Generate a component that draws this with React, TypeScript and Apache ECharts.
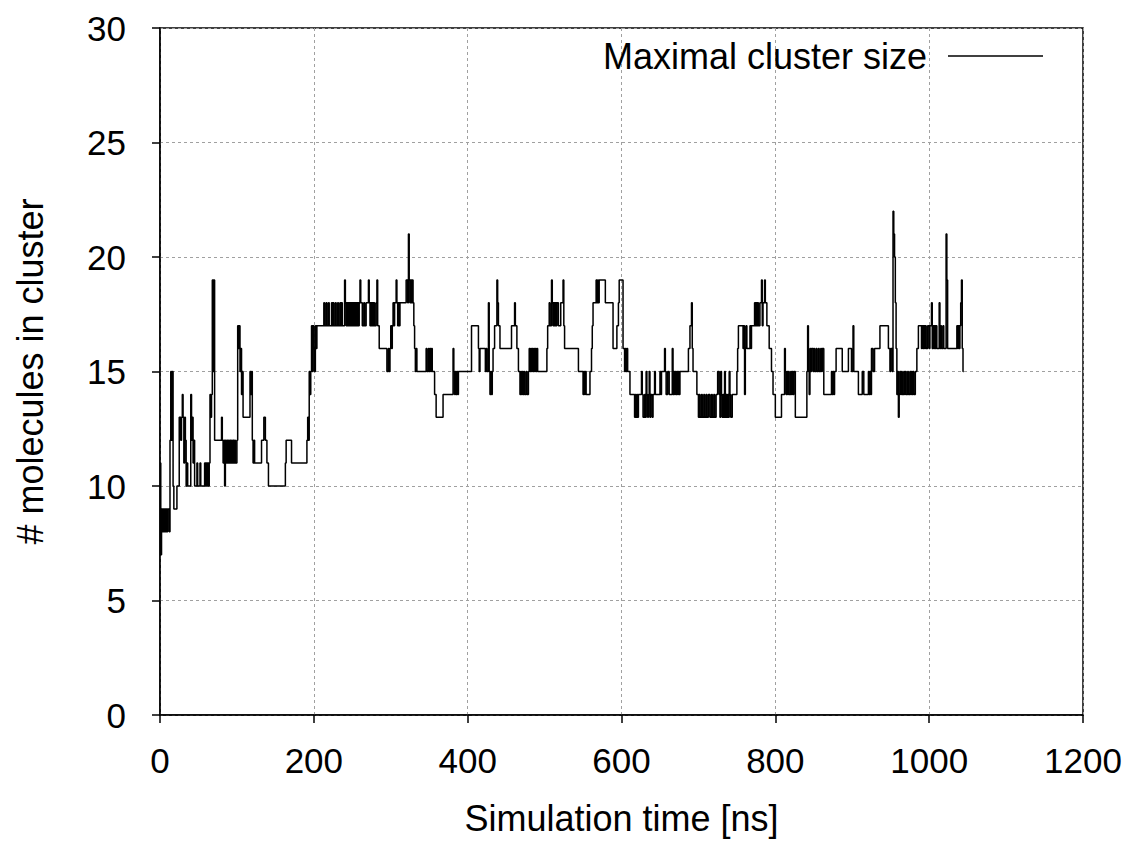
import React, { useEffect, useRef } from "react";
import * as echarts from "echarts";

// Maximal cluster size [t (ns), molecules] — value holds from t until next point
const seg0to100: [number, number][] = [
  [0, 11], [1, 7], [2, 9], [3, 8], [4, 9], [5, 8], [6, 9], [7, 8], [8, 9], [9, 8], [10, 9], [12, 8],
  [13, 12], [14, 15], [15, 12], [16, 15], [17, 10], [18, 9], [22, 10], [25, 13], [27, 12], [28, 13],
  [29, 14], [30, 13], [31, 11], [32, 13], [33, 12], [34, 10], [35, 11], [36, 10], [40, 14], [41, 12],
  [42, 13], [43, 11], [44, 12], [45, 10], [48, 11], [49, 10], [52, 11], [53, 10], [58, 11], [59, 10],
  [60, 11], [61, 10], [62, 11], [63, 10], [64, 11], [65, 14], [66, 13], [67, 14], [68, 19], [69, 15],
  [70, 19], [71, 12], [80, 13], [81, 12], [82, 11], [83, 12], [84, 10], [85, 12], [86, 11], [87, 12],
  [88, 11], [89, 12], [90, 11], [91, 12], [92, 11], [93, 12], [94, 11], [95, 12], [96, 11], [97, 12],
  [98, 11], [100, 12],
];
const seg100to200: [number, number][] = [
  [101, 17], [102, 16], [103, 17], [104, 15], [105, 16], [106, 14], [107, 15], [108, 13], [117, 15],
  [118, 14], [119, 15], [120, 12], [121, 11], [122, 12], [123, 11], [132, 12], [135, 13], [137, 12],
  [139, 11], [141, 10], [163, 11], [164, 12], [171, 11], [191, 12], [192, 13], [193, 12], [194, 15],
  [195, 14], [196, 15], [197, 17], [198, 15], [199, 17],
];
const seg200to400: [number, number][] = [
  [200, 16], [201, 15], [202, 17], [203, 16], [204, 17], [213, 18], [214, 17], [216, 18], [217, 17],
  [219, 18], [220, 17], [223, 18], [224, 17], [225, 18], [226, 17], [228, 18], [229, 17], [231, 18],
  [232, 17], [234, 18], [235, 17], [236, 18], [237, 17], [240, 19], [241, 18], [242, 17], [243, 18],
  [244, 17], [245, 18], [246, 17], [247, 18], [248, 17], [249, 18], [250, 17], [251, 18], [252, 17],
  [253, 18], [254, 17], [255, 18], [256, 17], [257, 18], [258, 17], [259, 18], [260, 19], [261, 18],
  [263, 17], [265, 18], [266, 17], [268, 18], [271, 19], [272, 18], [273, 17], [274, 18], [275, 17],
  [276, 18], [277, 17], [278, 18], [279, 17], [281, 18], [282, 19], [283, 17], [285, 16], [295, 15],
  [297, 16], [298, 15], [299, 16], [300, 17], [301, 16], [302, 17], [303, 18], [304, 17], [305, 18],
  [307, 19], [308, 18], [309, 17], [310, 18], [311, 17], [312, 18], [320, 19], [322, 18], [323, 21],
  [324, 19], [325, 18], [326, 19], [327, 18], [328, 19], [329, 18], [330, 17], [331, 16], [332, 15],
  [333, 16], [334, 15], [346, 16], [347, 15], [349, 16], [350, 15], [351, 16], [352, 15], [353, 16],
  [354, 15], [357, 14], [359, 13], [368, 14], [381, 16], [382, 15], [383, 14], [384, 15], [385, 14],
  [386, 15], [387, 14], [388, 15],
];
const seg400to600: [number, number][] = [
  [405, 17], [414, 16], [415, 15], [416, 16], [423, 15], [424, 16], [425, 15], [427, 18], [428, 15],
  [429, 14], [430, 15], [431, 14], [432, 15], [433, 16], [435, 17], [438, 19], [439, 18], [440, 17],
  [442, 16], [457, 17], [461, 18], [462, 17], [464, 16], [466, 15], [468, 14], [469, 15], [470, 14],
  [471, 15], [472, 14], [473, 15], [474, 14], [476, 15], [477, 14], [479, 15], [480, 16], [481, 15],
  [482, 16], [483, 15], [484, 16], [485, 15], [486, 16], [487, 15], [488, 16], [489, 15], [490, 16],
  [491, 15], [503, 16], [504, 17], [506, 18], [507, 17], [509, 19], [510, 18], [511, 17], [512, 18],
  [513, 17], [514, 18], [515, 17], [516, 18], [518, 17], [521, 18], [524, 19], [525, 17], [526, 16],
  [544, 15], [550, 14], [551, 15], [552, 14], [553, 15], [554, 14], [559, 15], [561, 16], [562, 17],
  [563, 18], [567, 19], [568, 18], [569, 19], [570, 18], [571, 19], [579, 18], [589, 16], [594, 17],
  [596, 18], [597, 19],
];
const seg600to800: [number, number][] = [
  [602, 16], [604, 15], [605, 16], [606, 15], [607, 16], [608, 15], [611, 14], [617, 13], [618, 14],
  [619, 13], [620, 14], [621, 13], [622, 14], [626, 15], [627, 14], [628, 13], [630, 14], [631, 13],
  [632, 15], [633, 14], [634, 13], [635, 14], [636, 15], [637, 13], [638, 14], [640, 13], [641, 14],
  [643, 15], [644, 14], [650, 15], [651, 14], [652, 15], [656, 16], [657, 15], [658, 14], [660, 15],
  [662, 14], [666, 16], [667, 14], [668, 15], [669, 14], [670, 15], [671, 14], [672, 15], [673, 14],
  [674, 15], [675, 14], [676, 15], [687, 16], [689, 17], [691, 18], [692, 16], [693, 15], [698, 14],
  [700, 13], [701, 14], [702, 13], [704, 14], [705, 13], [707, 14], [708, 13], [710, 14], [711, 13],
  [713, 14], [715, 13], [717, 14], [718, 13], [720, 14], [721, 13], [723, 14], [725, 15], [727, 14],
  [728, 13], [729, 15], [730, 14], [731, 13], [732, 14], [733, 13], [734, 15], [735, 13], [736, 14],
  [737, 13], [738, 14], [739, 13], [740, 15], [741, 14], [742, 13], [744, 14], [750, 15], [751, 16],
  [752, 17], [758, 16], [759, 17], [760, 14], [761, 16], [762, 17], [763, 16], [767, 17], [768, 16],
  [769, 17], [773, 18], [774, 17], [775, 18], [776, 17], [777, 18], [778, 17], [780, 18], [782, 19],
  [783, 17], [784, 18], [786, 19], [787, 18], [789, 17], [792, 16], [795, 15], [797, 14],
];
const seg800to1045: [number, number][] = [
  [800, 13], [808, 14], [812, 16], [813, 15], [814, 14], [815, 15], [816, 14], [817, 15], [818, 14],
  [820, 15], [821, 14], [822, 15], [823, 14], [824, 15], [826, 13], [841, 15], [842, 17], [843, 15],
  [844, 14], [845, 16], [846, 15], [847, 16], [849, 15], [850, 16], [851, 15], [853, 16], [854, 15],
  [856, 16], [857, 15], [859, 16], [860, 15], [861, 16], [863, 14], [873, 15], [874, 14], [875, 15],
  [876, 14], [877, 15], [879, 16], [887, 15], [895, 16], [899, 15], [901, 17], [902, 15], [908, 14],
  [913, 15], [915, 14], [921, 15], [922, 14], [923, 15], [924, 14], [925, 16], [927, 15], [929, 16],
  [936, 17], [947, 16], [949, 15], [950, 16], [952, 15], [953, 22], [954, 21], [955, 20], [956, 18],
  [957, 16], [958, 14], [959, 15], [960, 13], [961, 14], [962, 15], [963, 14], [964, 15], [965, 14],
  [967, 15], [968, 14], [969, 15], [970, 14], [972, 15], [973, 14], [975, 15], [976, 14], [977, 15],
  [978, 14], [979, 15], [980, 14], [982, 15], [984, 16], [986, 17], [990, 16], [991, 17], [992, 16],
  [993, 17], [994, 16], [995, 17], [996, 16], [998, 17], [1000, 16], [1001, 17], [1003, 18], [1004, 16],
  [1005, 17], [1006, 16], [1007, 17], [1008, 16], [1009, 17], [1010, 16], [1013, 18], [1014, 16],
  [1015, 17], [1016, 16], [1018, 17], [1019, 16], [1022, 21], [1023, 19], [1024, 16], [1036, 17],
  [1037, 16], [1038, 17], [1039, 16], [1040, 17], [1041, 18], [1042, 19], [1043, 16], [1044, 15],
  [1045, 15],
];

const seriesName = "Maximal cluster size";
const xTitle = "Simulation time [ns]";
const yTitle = "# molecules in cluster";

const FONT = "'Liberation Sans', Arial, sans-serif";

export default function App() {
  const ref = useRef<HTMLDivElement>(null);
  useEffect(() => {
    if (!ref.current) return;
    const chart = echarts.init(ref.current, undefined, { renderer: "svg" });
    const data = [
      ...seg0to100,
      ...seg100to200,
      ...seg200to400,
      ...seg400to600,
      ...seg600to800,
      ...seg800to1045,
    ];
    chart.setOption({
      animation: false,
      backgroundColor: "#ffffff",
      textStyle: { fontFamily: FONT },
      grid: {
        left: 160,
        right: 49,
        top: 28,
        bottom: 123,
        show: true,
        borderColor: "#000",
        borderWidth: 1.5,
        backgroundColor: "transparent",
      },
      legend: {
        right: 84,
        top: 33,
        align: "right",
        itemWidth: 95,
        itemHeight: 14,
        textStyle: { fontSize: 36, color: "#000", fontFamily: FONT, padding: [0, 16, 0, 0] },
        data: [{ name: seriesName, icon: "path://M0,0L100,0L100,1.5L0,1.5Z" }],
        itemStyle: { color: "#000" },
        selectedMode: false,
      },
      xAxis: {
        type: "value",
        min: 0,
        max: 1200,
        interval: 200,
        name: xTitle,
        nameLocation: "middle",
        nameGap: 85,
        nameTextStyle: { fontSize: 36, color: "#000", fontFamily: FONT },
        axisLine: { show: true, lineStyle: { color: "#000", width: 1.5 } },
        axisTick: { show: true, inside: false, length: 8, lineStyle: { color: "#000", width: 1.5 } },
        axisLabel: {
          fontSize: 35,
          color: "#000",
          margin: 28,
          fontFamily: FONT,
          formatter: (v: number) => String(v),
        },
        splitLine: { show: true, lineStyle: { color: "#a0a0a0", type: [3, 3], width: 1 } },
      },
      yAxis: {
        type: "value",
        min: 0,
        max: 30,
        interval: 5,
        name: yTitle,
        nameLocation: "middle",
        nameGap: 112,
        nameTextStyle: { fontSize: 36, color: "#000", fontFamily: FONT },
        axisLine: { show: true, lineStyle: { color: "#000", width: 1.5 } },
        axisTick: { show: true, inside: false, length: 8, lineStyle: { color: "#000", width: 1.5 } },
        axisLabel: { fontSize: 35, color: "#000", margin: 34, fontFamily: FONT },
        splitLine: { show: true, lineStyle: { color: "#a0a0a0", type: [3, 3], width: 1 } },
      },
      series: [
        {
          name: seriesName,
          type: "line",
          step: "end",
          data,
          symbol: "none",
          lineStyle: { color: "#000", width: 1.5 },
          itemStyle: { color: "#000" },
        },
      ],
    });
    return () => chart.dispose();
  }, []);
  return (
    <div
      ref={ref}
      style={{ position: "fixed", left: 0, top: 0, width: 1132, height: 841 }}
    />
  );
}
